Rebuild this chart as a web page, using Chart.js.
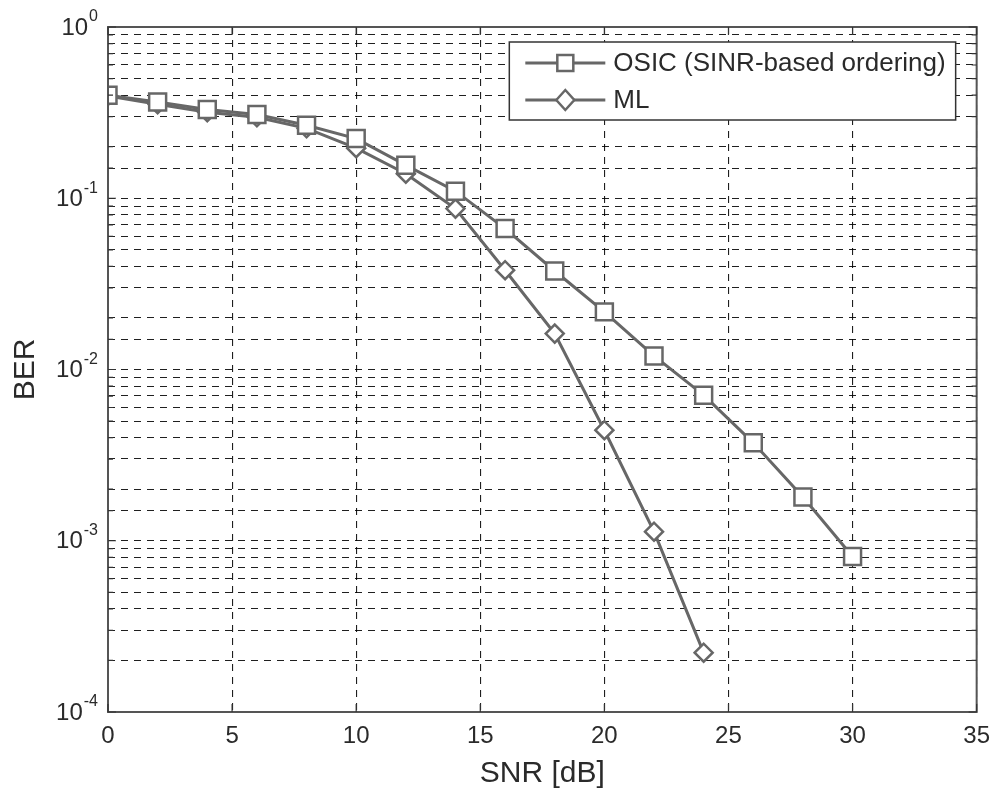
<!DOCTYPE html>
<html>
<head>
<meta charset="utf-8">
<script src="https://cdn.jsdelivr.net/npm/chart.js@4"></script>
<style>
  html, body { margin: 0; padding: 0; background: #fff; }
  #wrap { width: 1000px; height: 798px; }
</style>
</head>
<body>
<div id="wrap"><canvas id="berChart" width="1000" height="798"></canvas></div>
<script>
// SNR points (dB)
const snrOsic = [0, 2, 4, 6, 8, 10, 12, 14, 16, 18, 20, 22, 24, 26, 28, 30]
const snrMl = [0, 2, 4, 6, 8, 10, 12, 14, 16, 18, 20, 22, 24]

// BER values
const berOsic = [0.40, 0.365, 0.33, 0.308, 0.267, 0.223, 0.156, 0.110, 0.0665, 0.0376, 0.0217, 0.012, 0.00708, 0.00373, 0.0018, 0.00081]
const berMl = [0.395, 0.354, 0.318, 0.297, 0.256, 0.196, 0.139, 0.087, 0.038, 0.0162, 0.00442, 0.00113, 0.000222]

const seriesLabels = ['OSIC (SINR-based ordering)', 'ML']
const yExponents = [0, -1, -2, -3, -4]
const xTicks = [0, 5, 10, 15, 20, 25, 30, 35]

const lineGray = '#676767'
const textColor = '#2a2a2a'
const gridColor = 'rgba(0,0,0,0.88)'
const fontFamily = '"Liberation Sans", Arial, Helvetica, sans-serif'

const toPoints = (xs, ys) => xs.map((x, i) => ({ x: x, y: ys[i] }))

// y labels as 10 with a superscript exponent, ticks inside the frame, frame, legend
const matlabLook = {
  id: 'matlabLook',
  afterDatasetsDraw(chart) {
    const ctx = chart.ctx
    const ca = chart.chartArea
    const xs = chart.scales.x
    const ys = chart.scales.y
    ctx.save()

    // frame
    ctx.strokeStyle = '#555'
    ctx.lineWidth = 2
    ctx.strokeRect(ca.left, ca.top, ca.right - ca.left, ca.bottom - ca.top)

    // tick marks pointing inward
    ctx.lineWidth = 1.2
    ctx.strokeStyle = '#333'
    ctx.beginPath()
    xTicks.forEach(v => {
      const px = xs.getPixelForValue(v)
      ctx.moveTo(px, ca.bottom); ctx.lineTo(px, ca.bottom - 8)
      ctx.moveTo(px, ca.top); ctx.lineTo(px, ca.top + 8)
    })
    ys.ticks.forEach(t => {
      const py = ys.getPixelForValue(t.value)
      const major = Math.abs(Math.log10(t.value) - Math.round(Math.log10(t.value))) < 1e-6
      const len = major ? 8 : 5
      ctx.moveTo(ca.left, py); ctx.lineTo(ca.left + len, py)
      ctx.moveTo(ca.right, py); ctx.lineTo(ca.right - len, py)
    })
    ctx.stroke()

    // y labels
    ctx.fillStyle = textColor
    ctx.textBaseline = 'middle'
    yExponents.forEach(n => {
      const py = ys.getPixelForValue(Math.pow(10, n))
      const expText = String(n)
      ctx.font = '16px ' + fontFamily
      const expW = ctx.measureText(expText).width
      const rightEdge = ca.left - 10
      ctx.textAlign = 'left'
      ctx.fillText(expText, rightEdge - expW, py - 10)
      ctx.font = '24px ' + fontFamily
      ctx.textAlign = 'right'
      ctx.fillText('10', rightEdge - expW - 1, py + 1)
    })

    // legend
    ctx.font = '26px ' + fontFamily
    const textW = Math.max(...seriesLabels.map(s => ctx.measureText(s).width))
    const boxW = 104 + textW + 10
    const boxR = ca.right - 21
    const boxL = boxR - boxW
    const boxT = ca.top + 15
    const boxH = 78
    ctx.fillStyle = '#fff'
    ctx.fillRect(boxL, boxT, boxW, boxH)
    ctx.strokeStyle = '#333'
    ctx.lineWidth = 1.5
    ctx.strokeRect(boxL, boxT, boxW, boxH)

    const rows = [boxT + 21, boxT + 58]
    rows.forEach((ry, i) => {
      const x0 = boxL + 16
      const x1 = boxL + 96
      const cx = (x0 + x1) / 2
      ctx.strokeStyle = lineGray
      ctx.lineWidth = 3
      ctx.beginPath()
      ctx.moveTo(x0, ry); ctx.lineTo(x1, ry)
      ctx.stroke()
      ctx.fillStyle = '#fff'
      ctx.lineWidth = 2.5
      ctx.beginPath()
      if (i === 0) {
        ctx.rect(cx - 8, ry - 8, 16, 16)
      } else {
        ctx.moveTo(cx - 9, ry); ctx.lineTo(cx, ry - 10)
        ctx.lineTo(cx + 9, ry); ctx.lineTo(cx, ry + 10)
        ctx.closePath()
      }
      ctx.fill()
      ctx.stroke()
      ctx.fillStyle = textColor
      ctx.textAlign = 'left'
      ctx.textBaseline = 'middle'
      ctx.fillText(seriesLabels[i], boxL + 104, ry + 1)
    })

    ctx.restore()
  }
}

const ctx = document.getElementById('berChart')
new Chart(ctx, {
  type: 'line',
  data: {
    datasets: [
      {
        label: seriesLabels[0],
        data: toPoints(snrOsic, berOsic),
        borderColor: lineGray,
        borderWidth: 3,
        pointStyle: 'rect',
        pointRadius: 12,
        pointBorderWidth: 2.5,
        pointBorderColor: lineGray,
        pointBackgroundColor: '#fff',
        tension: 0
      },
      {
        label: seriesLabels[1],
        data: toPoints(snrMl, berMl),
        borderColor: lineGray,
        borderWidth: 3,
        pointStyle: 'rectRot',
        pointRadius: 9,
        pointBorderWidth: 2.5,
        pointBorderColor: lineGray,
        pointBackgroundColor: '#fff',
        tension: 0
      }
    ]
  },
  options: {
    responsive: false,
    animation: false,
    events: [],
    layout: { padding: { top: 27, right: 21, left: 0, bottom: 0 } },
    plugins: {
      legend: { display: false },
      tooltip: { enabled: false }
    },
    scales: {
      x: {
        type: 'linear',
        min: 0,
        max: 35,
        afterBuildTicks: scale => { scale.ticks = xTicks.map(v => ({ value: v })) },
        afterFit: scale => { scale.height = 86 },
        grid: { color: gridColor, lineWidth: 1.1, drawTicks: false },
        border: { display: false, dash: [7, 6] },
        ticks: {
          autoSkip: false,
          maxRotation: 0,
          padding: 10,
          color: textColor,
          font: { size: 24, family: fontFamily }
        },
        title: {
          display: true,
          text: 'SNR [dB]',
          color: textColor,
          font: { size: 30, family: fontFamily },
          padding: { top: 0, bottom: 6 }
        }
      },
      y: {
        type: 'logarithmic',
        min: 1e-4,
        max: 1,
        afterFit: scale => { scale.width = 108 },
        grid: { color: gridColor, lineWidth: 1.1, drawTicks: false },
        border: { display: false, dash: [7, 6] },
        ticks: { display: false },
        title: {
          display: true,
          text: 'BER',
          color: textColor,
          font: { size: 30, family: fontFamily },
          padding: { top: 8, bottom: 0 }
        }
      }
    }
  },
  plugins: [matlabLook]
})
</script>
</body>
</html>
